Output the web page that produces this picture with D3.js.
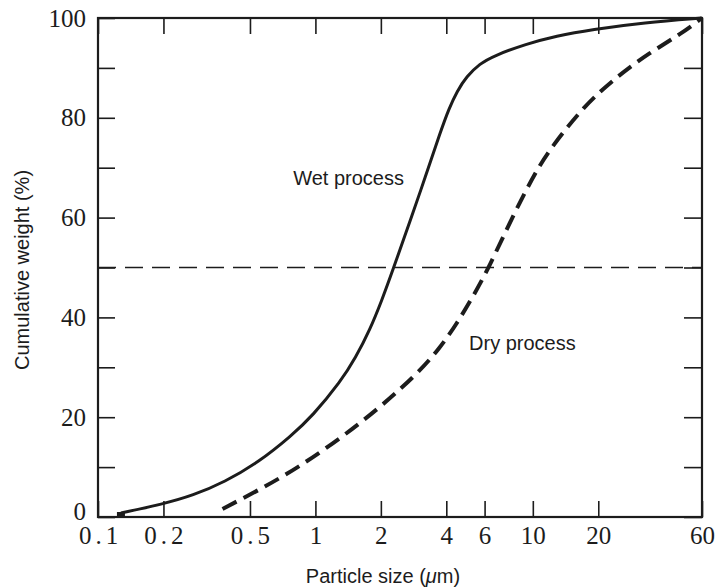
<!DOCTYPE html>
<html>
<head>
<meta charset="utf-8">
<script src="https://cdn.jsdelivr.net/npm/d3@7"></script>
<style>
  body { margin: 0; background: #fff; }
  svg { display: block; }
</style>
</head>
<body>
<div id="chart"></div>
<script>
// particle size (um) vs cumulative weight (%)
var wetSize = [0.1275, 0.199, 0.273, 0.382, 0.549, 0.776, 0.967, 1.31, 1.53, 1.78, 2.02, 2.25, 2.74, 3.19, 3.76, 4.12, 4.48, 4.96, 5.69, 6.59, 9.32, 12.8, 18.6, 32.6, 60];
var wetPct = [0.8, 2.6, 4.3, 7, 11, 16.3, 20.2, 27.2, 31.9, 37.5, 43.4, 49, 59.6, 67.9, 77.2, 81.9, 85.3, 88.3, 90.8, 92.4, 94.8, 96.4, 97.7, 99.1, 100];

var drySize = [0.374, 0.448, 0.8, 1.68, 2.94, 3.74, 4.48, 5.36, 6.28, 8.27, 10.5, 12.1, 17.1, 24.3, 34.0, 48.8, 60];
var dryPct = [1.6, 3.4, 9.2, 19.2, 28.6, 33.9, 38.8, 44.5, 50, 61.2, 69.8, 73.9, 82.3, 88.2, 92.9, 97, 100];

var xTicks = [0.1, 0.2, 0.5, 1, 2, 4, 6, 10, 20, 60];
var yTicks = [0, 10, 20, 30, 40, 50, 60, 70, 80, 90, 100];
var yLabels = [0, 20, 40, 60, 80, 100];
var refLine = 50;

var margin = { top: 18, right: 16, bottom: 71, left: 98 },
  W = 718,
  H = 588,
  width = W - margin.left - margin.right,
  height = H - margin.top - margin.bottom;

var ink = "#1c1c1c";

var svg = d3
  .select("#chart")
  .append("svg")
  .attr("width", W)
  .attr("height", H);

var g = svg
  .append("g")
  .attr("transform", "translate(" + margin.left + "," + margin.top + ")");

var x = d3.scaleLog().domain([0.1, 60]).range([0, width]);
var y = d3.scaleLinear().domain([0, 100]).range([height, 0]);

// axes, ticks pointing inward
var fmtX = function (d) { return String(d); };
var fmtY = function (d) { return yLabels.indexOf(d) >= 0 ? d : ""; };

var bottomAx = g
  .append("g")
  .attr("transform", "translate(0," + height + ")")
  .call(d3.axisBottom(x).tickValues(xTicks).tickFormat(fmtX).tickSize(-16).tickPadding(9));

g.append("g")
  .call(d3.axisTop(x).tickValues(xTicks).tickFormat("").tickSize(-16));

var leftAx = g
  .append("g")
  .call(d3.axisLeft(y).tickValues(yTicks).tickFormat(fmtY).tickSize(-17).tickPadding(12));

g.append("g")
  .attr("transform", "translate(" + width + ",0)")
  .call(d3.axisRight(y).tickValues(yTicks).tickFormat("").tickSize(-18));

g.selectAll(".domain").remove();
g.selectAll(".tick line").attr("stroke", ink).attr("stroke-width", 1.6);
g.selectAll(".tick text")
  .attr("fill", ink)
  .style("font-family", "'Liberation Serif', 'DejaVu Serif', serif")
  .style("font-size", "25px");

// the zero label sits a little above its tick
leftAx.selectAll(".tick text")
  .attr("dy", function (d) { return d === 0 ? "0.08em" : "0.32em"; });

// decimals are set with wide spacing in the original
bottomAx.selectAll(".tick text")
  .style("letter-spacing", function (d) { return d < 1 ? "4px" : "0px"; })
  .attr("dx", function (d) { return d < 1 ? "2px" : "0px"; });

// frame
g.append("rect")
  .attr("x", 0)
  .attr("y", 0)
  .attr("width", width)
  .attr("height", height)
  .attr("fill", "none")
  .attr("stroke", ink)
  .attr("stroke-width", 2.2);

// 50% reference line
g.append("line")
  .attr("x1", 0)
  .attr("x2", width)
  .attr("y1", y(refLine))
  .attr("y2", y(refLine))
  .attr("stroke", ink)
  .attr("stroke-width", 1.5)
  .attr("stroke-dasharray", "18,9");

var line = d3
  .line()
  .x(function (d) { return x(d[0]); })
  .y(function (d) { return y(d[1]); })
  .curve(d3.curveBasis);

var wet = d3.zip(wetSize, wetPct);
var dry = d3.zip(drySize, dryPct);

g.append("path")
  .datum(wet)
  .attr("d", line)
  .attr("fill", "none")
  .attr("stroke", ink)
  .attr("stroke-width", 3);

// small square where the wet curve starts
g.append("rect")
  .attr("x", x(wet[0][0]) - 4)
  .attr("y", y(0) - 5)
  .attr("width", 8)
  .attr("height", 5)
  .attr("fill", ink);

g.append("path")
  .datum(dry)
  .attr("d", line)
  .attr("fill", "none")
  .attr("stroke", ink)
  .attr("stroke-width", 4)
  .attr("stroke-dasharray", "16,8");

// curve labels
var sans = "'Liberation Sans', Arial, Helvetica, sans-serif";

g.append("text")
  .attr("x", x(0.79))
  .attr("y", y(66.6))
  .attr("fill", ink)
  .style("font-family", sans)
  .style("font-size", "20px")
  .text("Wet process");

g.append("text")
  .attr("x", x(5.09))
  .attr("y", y(33.4))
  .attr("fill", ink)
  .style("font-family", sans)
  .style("font-size", "20px")
  .text("Dry process");

// axis titles
var xt = svg
  .append("text")
  .attr("x", 383)
  .attr("y", 583)
  .attr("text-anchor", "middle")
  .attr("fill", ink)
  .style("font-family", sans)
  .style("font-size", "20px");
xt.append("tspan").text("Particle size (");
xt.append("tspan").style("font-style", "italic").text("\u03bc");
xt.append("tspan").text("m)");

svg
  .append("text")
  .attr("transform", "translate(29,270) rotate(-90)")
  .attr("text-anchor", "middle")
  .attr("fill", ink)
  .style("font-family", sans)
  .style("font-size", "20px")
  .text("Cumulative weight (%)");
</script>
</body>
</html>
